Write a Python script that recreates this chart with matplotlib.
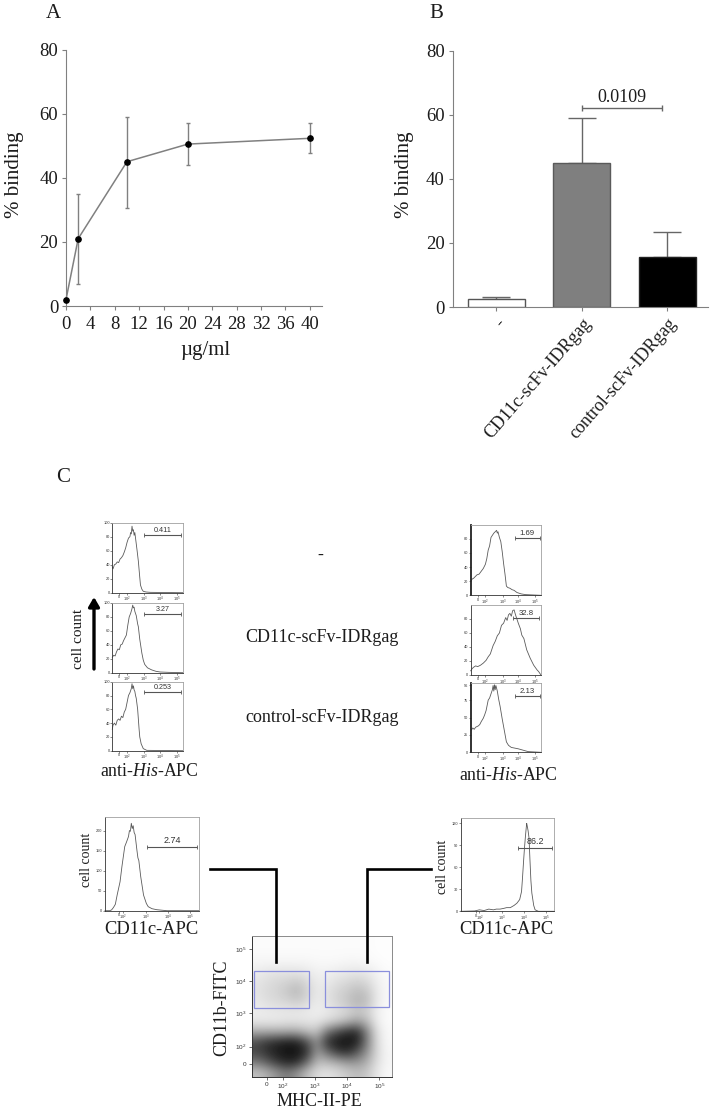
import numpy as np
import matplotlib
matplotlib.use("Agg")
import matplotlib.pyplot as plt
from matplotlib.patches import Rectangle

plt.rcParams['font.family'] = ['Liberation Serif', 'DejaVu Serif']
plt.rcParams['mathtext.fontset'] = 'custom'
plt.rcParams['mathtext.rm'] = 'Liberation Serif'
plt.rcParams['mathtext.it'] = 'Liberation Serif:italic'

W, H = 715, 1112

# Panel A
dose = [0, 2, 10, 20, 40]
binding = [2, 21, 45, 50.5, 52.3]
err_low = [2, 7, 30.5, 44, 47.8]
err_high = [2, 35, 59, 57, 57]
dose_ticks = [0, 4, 8, 12, 16, 20, 24, 28, 32, 36, 40]
binding_ticks = [0, 20, 40, 60, 80]

# Panel B
bar_names = ['-', 'CD11c-scFv-IDRgag', 'control-scFv-IDRgag']
bar_values = [2.5, 45, 15.5]
bar_tops = [3.2, 59, 23.3]
bar_colors = ['white', '#7f7f7f', 'black']
p_value = '0.0109'
p_level = 62.2

# Panel C histograms: x is percent of the box width, y is percent of scale
ul1_x = [0,1,3,5,7,9,11,13,15,17,19,21,23,25,26,27,28,29,30,31,32,33,35,37,39,40,42,44,48,54,100]
ul1_y = [37,34,40,41,44,43,48,50,53,58,64,72,78,80,86,84,95,88,90,82,86,78,62,45,22,11,5,2,1,0.5,0]
ul2_x = [0,2,4,6,8,10,12,14,16,18,20,22,24,26,28,29,30,31,32,34,36,37,39,42,44,46,50,56,62,68,80,100]
ul2_y = [22,25,24,30,34,33,40,41,46,50,54,68,80,85,92,97,93,94,88,82,70,66,48,28,18,12,7,4,2,1,0.5,0]
ul3_x = [0,1,3,5,7,9,11,13,15,17,19,21,23,25,27,28,29,30,31,32,33,34,36,38,39,41,44,49,100]
ul3_y = [31,37,40,37,44,46,44,50,48,56,60,70,80,84,90,97,90,94,88,86,80,76,60,32,20,10,3,0.5,0]
ur1_x = [1,2,4,6,9,12,15,18,21,23,25,27,29,31,33,35,37,38,39,41,43,45,47,49,51,53,56,59,62,66,72,78,100]
ur1_y = [21,23,24,26,29,30,34,38,44,52,64,70,82,85,88,90,92,88,90,82,76,62,45,30,13,11,10,8,7,4,2,1,0]
ur2_x = [0,2,4,7,10,14,18,22,25,28,32,35,38,41,44,47,50,52,54,56,58,60,62,64,66,68,71,73,76,80,85,90,95,97,100]
ur2_y = [6,9,11,13,12,14,17,21,26,30,42,48,56,60,71,74,82,78,86,88,84,92,93,86,80,74,66,57,52,36,24,14,7,5,0.5]
ur3_x = [1,3,5,7,9,11,13,15,18,20,22,25,27,29,31,32,33,34,35,36,37,38,40,42,45,47,49,51,54,58,63,68,75,82,100]
ur3_y = [32,35,33,36,37,38,40,44,49,54,60,75,78,84,90,96,88,97,90,96,92,88,76,66,48,37,26,15,10,7,6,5,3,1,0]
ll_x = [0,5,7,9,11,13,16,18,21,23,25,26,27,28,29,30,31,32,33,34,35,36,38,41,44,46,50,55,66,100]
ll_y = [0,0,2,8,16,40,72,110,160,172,185,200,198,218,205,212,195,190,170,150,132,125,85,39,18,10,5,2.5,0,0]
lr_x = [0,15,20,25,30,35,38,42,46,49,53,57,60,63,65,66,67,68,69,70,70.5,71,72,73,74,75,76,78,79.5,83,100]
lr_y = [0,0.5,2,1,3,2,3,3,4,5,5,8,11,16,27,45,65,84,100,114,120,117,110,100,70,42,25,8,2,0,0]

gate_ul = ['0.411', '3.27', '0.253']
gate_ur = ['1.69', '32.8', '2.13']
gate_ll = '2.74'
gate_lr = '86.2'

# Dot plot density, darkness 0-100, rows top to bottom
density = np.array([
    [2,2,2,2,2,2,2,2,2,2,2,2,1,1],
    [2,2,2,2,2,2,2,2,2,2,2,2,1,1],
    [4,4,4,4,4,4,3,3,3,4,4,3,2,1],
    [8,10,11,11,11,9,6,6,8,9,10,9,5,2],
    [11,14,17,18,22,16,8,9,13,16,19,16,7,3],
    [12,16,18,24,30,20,9,12,18,22,28,24,9,3],
    [10,14,16,18,22,16,8,12,18,24,32,28,9,3],
    [8,9,10,10,10,9,7,9,13,17,23,20,7,2],
    [10,10,10,12,12,11,11,16,22,30,40,30,8,2],
    [35,35,35,36,36,28,25,58,75,88,90,52,13,3],
    [75,85,90,96,94,74,46,86,98,100,95,55,15,3],
    [78,88,96,100,100,88,42,62,82,90,72,46,16,4],
    [58,70,84,93,90,64,30,30,36,44,45,34,14,4],
    [26,34,46,56,46,28,15,12,16,22,28,24,10,3],
])

fig = plt.figure(figsize=(W / 100, H / 100), dpi=100, facecolor='white')


def px_axes(left, top, right, bottom, **kw):
    return fig.add_axes([left / W, 1 - bottom / H, (right - left) / W, (bottom - top) / H], **kw)


GREY = '#808080'
TXT = '#1c1c1c'

# ---------- Panel A
a = px_axes(66, 49.5, 322, 306)
a.set_xlim(0, 42)
a.set_ylim(0, 80)
y = np.array(binding)
a.errorbar(dose, binding, yerr=[y - np.array(err_low), np.array(err_high) - y], color=GREY, lw=1.1,
           elinewidth=1.0, capsize=1.5, capthick=1.0, clip_on=False, zorder=2)
a.plot(dose, binding, 'o', color='black', ms=3.8, clip_on=False, zorder=3)
a.set_xticks(dose_ticks)
a.set_yticks(binding_ticks)
a.spines[['top', 'right']].set_visible(False)
a.spines[['left', 'bottom']].set_color(GREY)
a.tick_params(colors=TXT, labelsize=13.5, length=3, color=GREY, pad=2.5)
a.tick_params(axis='x', pad=4.5)
a.patch.set_alpha(0)

# ---------- Panel B
b = px_axes(453, 50.7, 708, 307)
positions = [496, 581.7, 667]
b.set_xlim(453, 708)
b.set_ylim(0, 80)
b.bar(positions, bar_values, width=57, color=bar_colors, edgecolor=['#555555', '#5a5a5a', '#222222'], lw=1.0, zorder=3)
b.errorbar(positions, bar_values, yerr=[[0, 0, 0], np.array(bar_tops) - np.array(bar_values)], fmt='none',
           ecolor='#666666', elinewidth=1.0, capsize=10, capthick=1.0, zorder=2)
b.set_yticks(binding_ticks)
b.set_xticks(positions)
b.set_xticklabels(bar_names, rotation=49, ha='right', rotation_mode='anchor')
b.spines[['top', 'right']].set_visible(False)
b.spines[['left', 'bottom']].set_color(GREY)
b.spines['bottom'].set_bounds(453, 708)
b.tick_params(colors=TXT, labelsize=13.5, length=3, color=GREY, pad=3)
b.tick_params(axis='x', labelsize=13)
b.patch.set_alpha(0)
b.errorbar([621.9], [p_level], xerr=[39.7], color='#666666', elinewidth=1.0, capsize=2, capthick=1.0, zorder=2)
b.text(621.9, p_level + 0.4, p_value, ha='center', va='bottom', fontsize=13, color=TXT)


# ---------- Histograms
def hist(box, xs, ys, top, yticks, xt, gate=None, thick=False):
    ax = px_axes(*box)
    ax.set_xlim(0, 100)
    ax.set_ylim(0, top)
    ax.plot(xs, ys, color='#5a5a5a', lw=0.6, solid_joinstyle='round', clip_on=False)
    for s in ax.spines.values():
        s.set_color('#a0a0a0')
        s.set_linewidth(0.6)
    ax.spines[['bottom', 'left']].set_color('#333333')
    if thick:
        ax.spines['left'].set_linewidth(1.3)
        ax.spines['left'].set_color('#222222')
    ax.set_yticks(yticks)
    ax.set_yticklabels([str(v) for v in yticks])
    ax.set_xticks(xt)
    ax.set_xticklabels(x_tick_names)
    ax.tick_params(length=1.2, width=0.4, pad=0.6, labelsize=2.8, colors='#333333')
    for lab in ax.get_xticklabels() + ax.get_yticklabels():
        lab.set_family('Liberation Sans')
    if gate:
        x0, x1, level, label, size = gate
        ax.errorbar([(x0 + x1) / 2], [level], xerr=[(x1 - x0) / 2], color='#555555', elinewidth=0.8,
                    capsize=1.2, capthick=0.6)
        ax.text((x0 + x1) / 2, level + top * 0.015, label, ha='center', va='bottom', fontsize=size,
                family='Liberation Sans', color='#333333')
    return ax


x_tick_names = ['0', r'$\mathregular{10^{2}}$', r'$\mathregular{10^{3}}$', r'$\mathregular{10^{4}}$',
                r'$\mathregular{10^{5}}$']
xt_small = [10, 20.4, 45.5, 68, 91.5]
yt100 = [0, 20, 40, 60, 80, 100]
yt200 = [0, 50, 100, 150, 200]
yt120 = [0, 30, 60, 90, 120]

hist((112.3, 522.7, 182.7, 592.7), ul1_x, ul1_y, 100, yt100, xt_small, (45.5, 97, 82.4, gate_ul[0], 5.2))
hist((112.3, 603, 182.7, 672.7), ul2_x, ul2_y, 100, yt100, xt_small, (45.5, 97, 84, gate_ul[1], 5.2))
hist((112.3, 681.7, 182.7, 750.7), ul3_x, ul3_y, 100, yt100, xt_small, (45.5, 97, 84.5, gate_ul[2], 5.2))

hist((470.7, 524.7, 540.7, 595.3), ur1_x, ur1_y, 100, [0, 20, 40, 60, 80], xt_small, (63, 99, 80.6, gate_ur[0], 5.6), True)
hist((470.7, 605, 540.7, 675), ur2_x, ur2_y, 100, [0, 20, 40, 60, 80], xt_small, (61, 98, 81, gate_ur[1], 5.6))
hist((470.7, 682.7, 540.7, 752.3), ur3_x, ur3_y, 100, [0, 25, 50, 75, 96], xt_small, (63, 99, 81, gate_ur[2], 5.6), True)

hist((105, 817.3, 199, 910.7), ll_x, ll_y, 233, yt200, [15, 19, 44, 67, 90], (45, 97.5, 160, gate_ll, 6.5))
hist((460.7, 818.3, 554.3, 911.3), lr_x, lr_y, 127, yt120, [16, 20, 44, 68, 91], (61, 98, 87, gate_lr, 6.4))

# ---------- Dot plot
d = px_axes(251.7, 936, 391.7, 1076.7)
d.imshow(density, cmap='gray_r', vmin=0, vmax=108, extent=[0, 100, 0, 100], aspect='auto',
         interpolation='bicubic', origin='upper')
d.set_xlim(0, 100)
d.set_ylim(0, 100)
for s in d.spines.values():
    s.set_color('#8a8a8a')
    s.set_linewidth(0.7)
d.spines[['bottom', 'left']].set_color('#333333')
d.set_xticks([10.7, 22.1, 45.2, 67.9, 91.2])
d.set_xticklabels(x_tick_names)
d.set_yticks([9, 21.3, 45, 68, 90.5])
d.set_yticklabels(['0', r'$\mathregular{10^{2}}$', r'$\mathregular{10^{3}}$', r'$\mathregular{10^{4}}$',
                   r'$\mathregular{10^{5}}$'])
d.tick_params(length=2, width=0.5, labelsize=4.6, pad=1.5, colors='#333333')
for lab in d.get_xticklabels() + d.get_yticklabels():
    lab.set_family('Liberation Sans')
for gx, gy, gw, gh in [(1.9, 49, 39.3, 26), (52, 49.5, 46.2, 25.5)]:
    d.add_patch(Rectangle((gx, gy), gw, gh, fill=False, ec='#8a8fdc', lw=0.9))

# ---------- Overlay: text, connectors, arrow
o = fig.add_axes([0, 0, 1, 1], zorder=10)
o.set_xlim(0, W)
o.set_ylim(H, 0)
o.axis('off')
o.patch.set_alpha(0)


def t(x, y, s, size=13.5, rot=0):
    o.text(x, y, s, ha='center', va='center', fontsize=size, rotation=rot, color=TXT)


t(53, 13, 'A', 15)
t(436, 13, 'B', 15)
t(63, 478, 'C', 15)
t(14, 175, '% binding', 15, 90)
t(405, 175, '% binding', 15, 90)
t(205, 351, 'µg/ml', 15)
t(320, 555, '-', 13)
t(322, 638, bar_names[1], 13)
t(322, 718, bar_names[2], 13)
t(78, 639, 'cell count', 11, 90)
t(149, 771, r'anti-$\mathit{His}$-APC', 12.8)
t(508, 775, r'anti-$\mathit{His}$-APC', 12.8)
t(86, 860, 'cell count', 10, 90)
t(443, 867, 'cell count', 10, 90)
t(151, 929, 'CD11c-APC', 13.3)
t(506, 930, 'CD11c-APC', 13.3)
t(222, 1008, 'CD11b-FITC', 13, 90)
t(319, 1102, 'MHC-II-PE', 13)

o.plot([210, 276, 276], [869, 869, 962], color='black', lw=1.9, solid_joinstyle='miter')
o.plot([431, 367, 367], [869, 869, 962], color='black', lw=1.9, solid_joinstyle='miter')
o.annotate('', xy=(94, 597), xytext=(94, 669),
           arrowprops=dict(arrowstyle='-|>,head_width=0.32,head_length=0.55', color='black', lw=2.4,
                           shrinkA=0, shrinkB=0))

fig.savefig('out.png', dpi=100)
